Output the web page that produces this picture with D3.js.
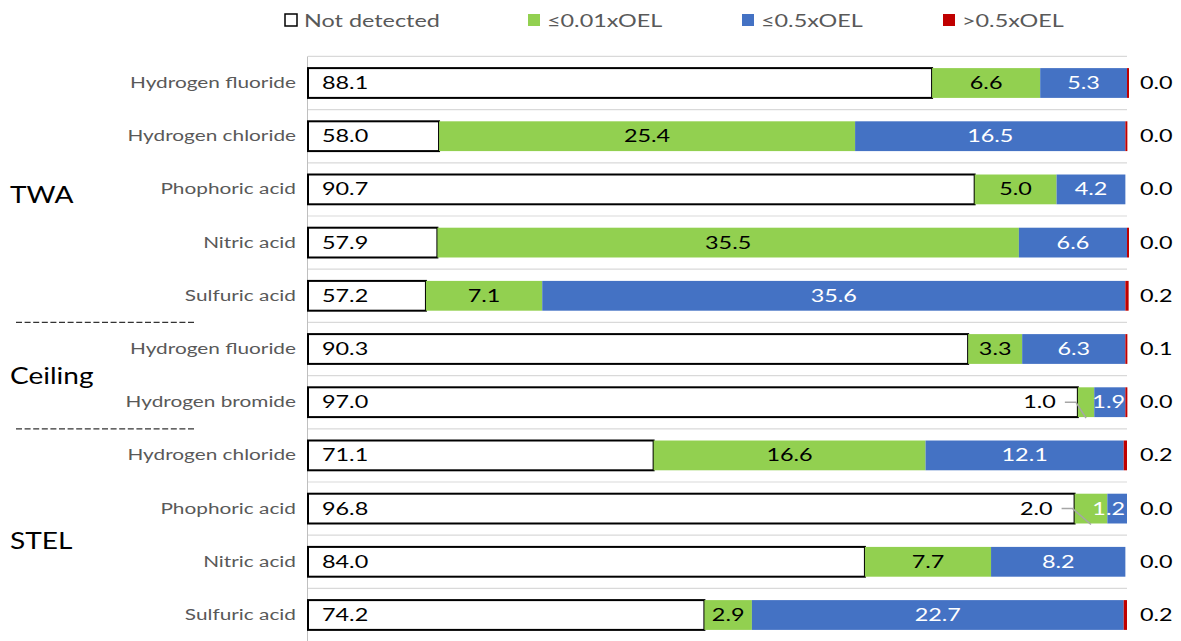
<!DOCTYPE html>
<html>
<head>
<meta charset="utf-8">
<script src="https://cdn.jsdelivr.net/npm/d3@7"></script>
<style>
  body { margin: 0; background: #fff; }
  text { font-family: Lato, "Open Sans", sans-serif; }
</style>
</head>
<body>
<svg id="chart" width="1181" height="641"></svg>
<script>
// rows top to bottom
const categories = ["Hydrogen fluoride", "Hydrogen chloride", "Phophoric acid", "Nitric acid", "Sulfuric acid",
                    "Hydrogen fluoride", "Hydrogen bromide",
                    "Hydrogen chloride", "Phophoric acid", "Nitric acid", "Sulfuric acid"];
const notDetected = [88.1, 58.0, 90.7, 57.9, 57.2, 90.3, 97.0, 71.1, 96.8, 84.0, 74.2];
const lowOEL      = [6.6, 25.4, 5.0, 35.5, 7.1, 3.3, 1.0, 16.6, 2.0, 7.7, 2.9];
const midOEL      = [5.3, 16.5, 4.2, 6.6, 35.6, 6.3, 1.9, 12.1, 1.2, 8.2, 22.7];
const highOEL     = [0.04, 0.04, 0, 0.04, 0.2, 0.1, 0.04, 0.2, 0, 0, 0.2];
const seriesNames = ["Not detected", "≤0.01xOEL", "≤0.5xOEL", ">0.5xOEL"];
const groupNames  = ["TWA", "Ceiling", "STEL"];
const groupRows   = [[0, 4], [5, 6], [7, 10]];

const colors = ["#ffffff", "#92d050", "#4472c4", "#c00000"];
const SX = 1.3; // text in the original is drawn wide

const svg = d3.select("#chart");

const x = d3.scaleLinear().domain([50, 100]).range([308, 1127]);
const y = d3.scaleBand().domain(d3.range(categories.length)).range([56.4, 641.6]).paddingInner(0.44).paddingOuter(0.22);

const rows = categories.map((c, i) => ({ i, name: c, vals: [notDetected[i], lowOEL[i], midOEL[i], highOEL[i]] }));

// helper: wide text placed at (px,py)
function wtext(g, px, py, str, opts) {
  const t = g.append("text")
    .attr("transform", `translate(${px},${py}) scale(${opts.sx || SX},1)`)
    .attr("text-anchor", opts.anchor || "start")
    .attr("font-size", opts.size)
    .attr("fill", opts.fill)
    .text(str);
  return t;
}

// gridlines at row boundaries
const step = y.step();
const bounds = d3.range(categories.length + 1).map(k => 56.4 + k * step);
svg.append("g").selectAll("line").data(bounds).enter().append("line")
  .attr("x1", x(50)).attr("x2", x(100))
  .attr("y1", d => d).attr("y2", d => d)
  .attr("stroke", "#d9d9d9").attr("stroke-width", 1.2);

// vertical axis
svg.append("line").attr("x1", 307.5).attr("x2", 307.5).attr("y1", 56.4).attr("y2", 641)
  .attr("stroke", "#bfbfbf").attr("stroke-width", 1);

// bars
const bh = y.bandwidth();
const barG = svg.append("g");
rows.forEach(r => {
  let acc = 0;
  r.vals.forEach((v, k) => {
    const x0 = k === 0 ? x(50) : x(acc);
    acc += v;
    if (v <= 0) return;
    let w = x(acc) - x0;
    if (k === 3) w = Math.max(w, 2);
    barG.append("rect")
      .attr("x", x0).attr("y", y(r.i)).attr("width", w).attr("height", bh)
      .attr("fill", colors[k])
      .attr("stroke", k === 0 ? "#000" : "none")
      .attr("stroke-width", k === 0 ? 2 : 0);
  });
});

// value labels
const lab = svg.append("g");
rows.forEach(r => {
  const cy = y(r.i) + bh / 2 + 6;
  const [nd, lo, md, hi] = r.vals;
  wtext(lab, x(50) + 14, cy, nd.toFixed(1), { size: 18, fill: "#000" });

  const loStart = x(nd), loEnd = x(nd + lo);
  if (loEnd - loStart > 40) {
    wtext(lab, (loStart + loEnd) / 2, cy, lo.toFixed(1), { size: 18, fill: "#000", anchor: "middle" });
  } else {
    // label pulled out to the left with a leader line
    const endX = loStart - 22;
    const ly = y(r.i) + bh / 2;
    wtext(lab, endX, cy, lo.toFixed(1), { size: 18, fill: "#000", anchor: "end" });
    svg.append("path")
      .attr("d", `M${endX + 9},${ly} L${endX + 20},${ly} L${(loStart + loEnd) / 2},${y(r.i) + bh + 1}`)
      .attr("fill", "none").attr("stroke", "#a6a6a6").attr("stroke-width", 1.5);
  }

  const mdStart = x(nd + lo), mdEnd = x(nd + lo + md);
  const mt = wtext(lab, (mdStart + mdEnd) / 2, cy, md.toFixed(1), { size: 18, fill: "#fff", anchor: "middle" });
  // keep narrow labels inside the bar end
  const half = mt.node().getComputedTextLength() * SX / 2;
  const cx = Math.min((mdStart + mdEnd) / 2, x(100) - 2 - half);
  mt.attr("transform", `translate(${cx},${cy}) scale(${SX},1)`);

  wtext(lab, 1140, cy, hi.toFixed(1), { size: 18, fill: "#000" });
});

// category labels
const catG = svg.append("g");
rows.forEach(r => {
  wtext(catG, 296, y(r.i) + bh / 2 + 5, r.name, { size: 16, fill: "#595959", anchor: "end" });
});

// group labels (hand placed in the original)
const groupNudge = [6, 0, 6];
groupNames.forEach((g, k) => {
  const [a, b] = groupRows[k];
  const cy = (bounds[a] + bounds[b + 1]) / 2 + groupNudge[k] + 8;
  wtext(svg, 10, cy, g, { size: 23, fill: "#000", sx: 1.22 });
});

// separators between groups
[5, 7].forEach(k => {
  svg.append("line").attr("x1", 16).attr("x2", 195).attr("y1", bounds[k]).attr("y2", bounds[k])
    .attr("stroke", "#333").attr("stroke-width", 1.3).attr("stroke-dasharray", "6,2.6");
});

// legend
const legX = [285, 528, 742, 943];
const leg = svg.append("g");
seriesNames.forEach((s, k) => {
  leg.append("rect").attr("x", legX[k]).attr("y", 14).attr("width", 12).attr("height", 12)
    .attr("fill", colors[k]).attr("stroke", k === 0 ? "#000" : "none").attr("stroke-width", 1.5);
  wtext(leg, legX[k] + 19, 27, s, { size: 18, fill: "#595959" });
});
</script>
</body>
</html>
